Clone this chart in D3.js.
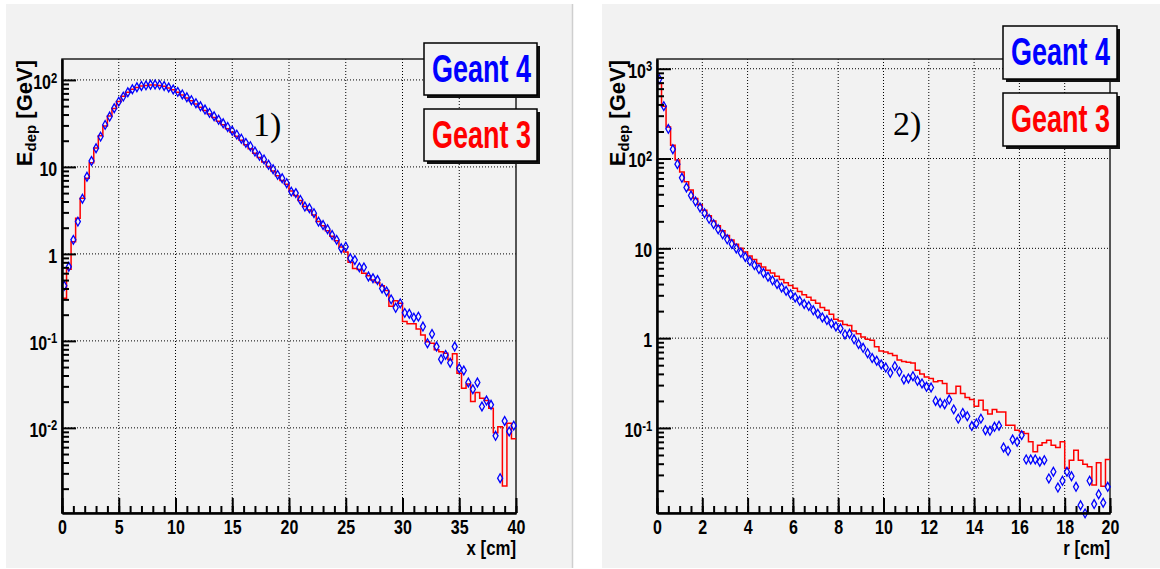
<!DOCTYPE html>
<html>
<head>
<meta charset="utf-8">
<title>Edep profiles: Geant 4 vs Geant 3</title>
<script src="https://d3js.org/d3.v7.min.js"></script>
<style>
body { margin: 0; background: #fff; }
svg { display: block; font-family: 'Liberation Sans', Arial, sans-serif; }
.grid { stroke: #000; stroke-width: 1; stroke-dasharray: 1,2; }
</style>
</head>
<body>
<div id="chart"></div>
<script>

///////////////////////////////////////////
//////////////   data   ///////////////////
///////////////////////////////////////////

var seriesNames = ["Geant 4", "Geant 3"];
var panelTags = ["1)", "2)"];
var axisTitles = ["x [cm]", "r [cm]"];

// panel 1 : longitudinal profile, 100 bins of 0.4 cm
var longBinWidth = 0.4;
var longXTicks = [0, 5, 10, 15, 20, 25, 30, 35, 40];
var longYDecades = [1e-2, 1e-1, 1, 10, 100];
var longG4 = [
  0.43, 0.71, 1.45, 2.35, 4.3, 7.7, 11.7, 16.4, 22.3, 30.4,
  37.9, 47.3, 56.3, 64.3, 72.1, 78.2, 82.4, 85.3, 86.6, 88.0,
  88.5, 87.7, 85.3, 81.8, 77.6, 72.9, 68.1, 63.2, 58.5, 54.0,
  49.7, 45.6, 41.8, 38.2, 34.8, 31.7, 28.8, 26.1, 23.5, 21.1,
  18.9, 17.3, 15.0, 13.4, 12.2, 10.6, 9.4, 8.1, 7.4, 6.5,
  5.2, 5.0, 4.18, 3.5, 3.35, 2.94, 2.35, 2.15, 1.92, 1.65,
  1.45, 1.16, 1.21, 0.89, 0.85, 0.70, 0.70, 0.55, 0.525, 0.50,
  0.40, 0.37, 0.30, 0.24, 0.27, 0.21, 0.205, 0.185, 0.19, 0.146,
  0.094, 0.12, 0.086, 0.0616, 0.069, 0.056, 0.086, 0.0485, 0.0456, 0.0332,
  0.0278, 0.0332, 0.0176, 0.0206, 0.0184, 0.0081, 0.00264, 0.012, 0.0091, 0.0106
];
var longG3 = [
  0.31, 0.667, 1.38, 2.57, 4.37, 7.4, 11.2, 16.5, 22.8, 29.5,
  38.5, 47, 56.5, 65, 72, 78, 82, 85, 86.5, 87.5,
  87.5, 86.5, 84.5, 81, 77, 72, 67, 62, 57.5, 53,
  48.5, 44.5, 40.5, 37, 33.5, 30.5, 27.5, 25, 22.5, 20.2,
  18, 16.2, 14.4, 12.8, 11.4, 10.1, 9.0, 7.9, 7.0, 6.3,
  5.3, 4.7, 4.1, 3.5, 3.2, 2.8, 2.35, 2.1, 1.85, 1.6,
  1.42, 1.2, 1.05, 0.8, 0.68, 0.66, 0.6, 0.56, 0.5, 0.47,
  0.43, 0.38, 0.25, 0.29, 0.27, 0.167, 0.157, 0.157, 0.137, 0.117,
  0.098, 0.094, 0.079, 0.075, 0.072, 0.0605, 0.071, 0.0425, 0.0286, 0.032,
  0.0201, 0.0255, 0.0219, 0.0206, 0.0168, 0.0088, 0.0103, 0.00215, 0.0113, 0.0075
];

// panel 2 : radial profile, 100 bins of 0.2 cm
var latBinWidth = 0.2;
var latXTicks = [0, 2, 4, 6, 8, 10, 12, 14, 16, 18, 20];
var latYDecades = [1e-1, 1, 10, 100, 1000];
var latG4 = [
  766, 383, 214, 127, 86.6, 61, 47.6, 38.8, 33.2, 28.5,
  24.6, 21.3, 18.6, 16.3, 14.3, 12.6, 11.2, 9.98, 8.93, 8.02,
  7.21, 6.50, 5.87, 5.32, 4.83, 4.40, 4.01, 3.66, 3.36, 3.08,
  2.84, 2.61, 2.40, 2.28, 2.04, 1.87, 1.70, 1.59, 1.46, 1.35,
  1.28, 1.10, 1.12, 0.97, 0.86, 0.78, 0.68, 0.60, 0.56, 0.51,
  0.471, 0.411, 0.488, 0.422, 0.347, 0.356, 0.377, 0.335, 0.313, 0.287,
  0.282, 0.2, 0.19, 0.184, 0.207, 0.161, 0.127, 0.147, 0.135, 0.105,
  0.112, 0.127, 0.0945, 0.0929, 0.103, 0.106, 0.0606, 0.0556, 0.0744, 0.070,
  0.0832, 0.0446, 0.0446, 0.0446, 0.042, 0.0438, 0.0274, 0.0325, 0.0217, 0.0258,
  0.0325, 0.029, 0.0221, 0.0138, 0.0112, 0.0258, 0.0142, 0.0183, 0.0147, 0.0221
];
var latG3 = [
  686, 383, 225, 141, 96, 71, 55, 44.5, 36, 30.5,
  26.5, 23.0, 20.2, 17.8, 15.7, 13.9, 12.4, 11.1, 10.0, 9.1,
  8.2, 7.5, 6.8, 6.2, 5.7, 5.3, 4.9, 4.5, 4.15, 3.85,
  3.6, 3.3, 3.05, 2.85, 2.65, 2.45, 2.2, 2.05, 1.85, 1.62,
  1.55, 1.42, 1.38, 1.2, 1.12, 1.03, 0.97, 0.95, 0.8, 0.72,
  0.70, 0.675, 0.64, 0.57, 0.55, 0.54, 0.53, 0.44, 0.40, 0.37,
  0.356, 0.327, 0.335, 0.313, 0.242, 0.242, 0.292, 0.242, 0.218, 0.207,
  0.175, 0.204, 0.158, 0.143, 0.161, 0.151, 0.151, 0.107, 0.107, 0.0945,
  0.0905, 0.0867, 0.070, 0.0542, 0.0643, 0.0683, 0.0731, 0.0643, 0.0607, 0.070,
  0.0354, 0.0438, 0.0566, 0.0438, 0.0395, 0.037, 0.0231, 0.0409, 0.0225, 0.0446
];

///////////////////////////////////////////
//////////////   drawing   ////////////////
///////////////////////////////////////////

var svg = d3.select("#chart").append("svg").attr("width", 1160).attr("height", 569);

function styleAxis(ax) {
  ax.attr("font-family", null).attr("font-size", null);
  ax.select(".domain").attr("stroke", "#000").attr("stroke-width", 2);
  ax.selectAll(".tick line").attr("stroke", "#000").attr("stroke-width", 2);
}

function drawPanel(p) {
  var g = svg.append("g");

  // pad background
  g.append("rect").attr("x", p.padX).attr("y", 4).attr("width", p.padW).attr("height", 564)
    .attr("fill", "#f2f2f2");
  if (p.padBorder) {
    g.append("line").attr("x1", p.padX + p.padW + 0.5).attr("x2", p.padX + p.padW + 0.5)
      .attr("y1", 4).attr("y2", 568).attr("stroke", "#cfcfcf").attr("stroke-width", 1.5);
  }

  var x = d3.scaleLinear().domain([0, p.xTicks[p.xTicks.length - 1]]).range([p.left, p.right]);
  var y = d3.scaleLog().domain(p.yDomain).range([p.bottom, p.top]);
  var xMax = x.domain()[1];

  // grid
  g.selectAll(".gx").data(p.xTicks.filter(v => v > 0 && v < xMax)).enter().append("line")
    .attr("class", "grid")
    .attr("x1", d => x(d)).attr("x2", d => x(d))
    .attr("y1", p.top).attr("y2", p.bottom);
  g.selectAll(".gy").data(p.yDecades).enter().append("line")
    .attr("class", "grid")
    .attr("x1", p.left).attr("x2", p.right)
    .attr("y1", d => y(d)).attr("y2", d => y(d));

  // frame
  g.append("rect").attr("x", p.left).attr("y", p.top)
    .attr("width", p.right - p.left).attr("height", p.bottom - p.top)
    .attr("fill", "none").attr("stroke", "#222").attr("stroke-width", 1.5);

  // Geant 3 histogram (red steps)
  var steps = p.g3.map((v, i) => [i * p.binW, v]);
  steps.push([p.g3.length * p.binW, p.g3[p.g3.length - 1]]);
  var line = d3.line().x(d => x(d[0])).y(d => y(d[1])).curve(d3.curveStepAfter);
  g.append("path").attr("d", line(steps))
    .attr("fill", "none").attr("stroke", "#ff0000").attr("stroke-width", 1.5);

  // Geant 4 markers (open diamonds)
  g.selectAll(".dia").data(p.g4).enter().append("path")
    .attr("d", "M0,-4.4L2.5,0L0,4.4L-2.5,0Z")
    .attr("transform", (d, i) => "translate(" + x((i + 0.5) * p.binW) + "," + y(d) + ")")
    .attr("fill", "none").attr("stroke", "#0000ff").attr("stroke-width", 1.3);

  // x axis
  var xMinor = d3.range(0, xMax + 1e-9, p.xMinorStep);
  var axm = g.append("g").attr("transform", "translate(0," + p.bottom + ")")
    .call(d3.axisBottom(x).tickValues(xMinor).tickSize(-7).tickSizeOuter(0).tickFormat(""));
  styleAxis(axm);
  var axM = g.append("g").attr("transform", "translate(0," + p.bottom + ")")
    .call(d3.axisBottom(x).tickValues(p.xTicks).tickSize(-15).tickSizeOuter(0).tickPadding(7));
  styleAxis(axM);
  axM.selectAll("text").attr("font-size", "20px").attr("font-weight", "bold")
    .attr("fill", "#000").attr("transform", "scale(0.8,1)");

  // y axis
  var yMinor = [];
  var lo = Math.floor(Math.log10(p.yDomain[0])), hi = Math.ceil(Math.log10(p.yDomain[1]));
  for (var e = lo; e <= hi; e++) {
    for (var k = 2; k <= 9; k++) {
      var v = k * Math.pow(10, e);
      if (v > p.yDomain[0] && v < p.yDomain[1]) yMinor.push(v);
    }
  }
  var aym = g.append("g").attr("transform", "translate(" + p.left + ",0)")
    .call(d3.axisLeft(y).tickValues(yMinor).tickSize(-7).tickSizeOuter(0).tickFormat(""));
  styleAxis(aym);
  var ayM = g.append("g").attr("transform", "translate(" + p.left + ",0)")
    .call(d3.axisLeft(y).tickValues(p.yDecades).tickSize(-14).tickSizeOuter(0).tickPadding(6));
  styleAxis(ayM);
  ayM.selectAll("text").text(null)
    .attr("font-size", "20px").attr("font-weight", "bold").attr("fill", "#000")
    .attr("dy", "0.42em").attr("transform", "scale(0.8,1)")
    .each(function(d) {
      var ex = Math.round(Math.log10(d));
      var t = d3.select(this);
      if (ex === 0) t.text("1");
      else if (ex === 1) t.text("10");
      else {
        t.append("tspan").text("10");
        t.append("tspan").attr("dy", "-0.45em").attr("font-size", "14px").text(ex);
      }
    });

  // axis titles
  g.append("text").attr("transform", "translate(" + p.right + ",555) scale(0.8,1)")
    .attr("text-anchor", "end").attr("font-size", "21px").attr("font-weight", "bold")
    .text(p.xTitle);

  var yt = g.append("text")
    .attr("transform", "translate(" + p.yTitleX + "," + (p.top + 1) + ") rotate(-90)")
    .attr("text-anchor", "end").attr("font-size", "22px").attr("font-weight", "bold");
  yt.append("tspan").text("E");
  yt.append("tspan").attr("font-size", "15px").attr("dy", "4").text("dep");
  yt.append("tspan").attr("dy", "-4").text(" [GeV]");

  // panel tag
  g.append("text").attr("x", p.tagX).attr("y", p.tagY)
    .attr("font-family", "'Liberation Serif', 'DejaVu Serif', serif").attr("font-size", "34px")
    .text(p.tag);

  // legend boxes
  var colors = ["#0000ff", "#ff0000"];
  seriesNames.forEach(function(name, i) {
    var by = p.legendY[i];
    g.append("rect").attr("x", p.legendX + 3).attr("y", by + 3)
      .attr("width", p.legendW).attr("height", p.legendH).attr("fill", "#111");
    g.append("rect").attr("x", p.legendX).attr("y", by)
      .attr("width", p.legendW).attr("height", p.legendH)
      .attr("fill", "#f2f2f2").attr("stroke", "#000").attr("stroke-width", 1.5);
    g.append("text").attr("x", p.legendX + 8).attr("y", by + 38.5)
      .attr("font-size", "39px").attr("font-weight", "bold").attr("fill", colors[i])
      .attr("textLength", 99).attr("lengthAdjust", "spacingAndGlyphs")
      .text(name);
  });
}

drawPanel({
  padX: 6, padW: 566, padBorder: true,
  left: 62, right: 516, top: 59, bottom: 513,
  yDomain: [0.00105, 174],
  xTicks: longXTicks, xMinorStep: 1, yDecades: longYDecades,
  binW: longBinWidth, g4: longG4, g3: longG3,
  xTitle: axisTitles[0], yTitleX: 32,
  tag: panelTags[0], tagX: 253, tagY: 136,
  legendX: 424, legendW: 113, legendH: 52, legendY: [43, 109]
});

drawPanel({
  padX: 602, padW: 558, padBorder: false,
  left: 657, right: 1110, top: 59, bottom: 513,
  yDomain: [0.0113, 1283],
  xTicks: latXTicks, xMinorStep: 0.5, yDecades: latYDecades,
  binW: latBinWidth, g4: latG4, g3: latG3,
  xTitle: axisTitles[1], yTitleX: 625,
  tag: panelTags[1], tagX: 893, tagY: 135,
  legendX: 1003, legendW: 114, legendH: 53, legendY: [26, 93]
});

</script>
</body>
</html>
